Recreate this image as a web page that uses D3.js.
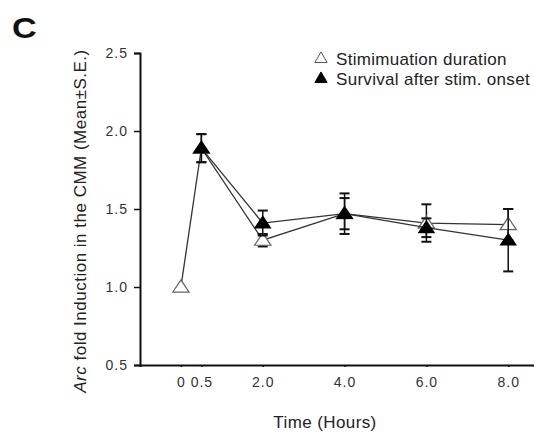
<!DOCTYPE html>
<html>
<head>
<meta charset="utf-8">
<script src="https://cdn.jsdelivr.net/npm/d3@7"></script>
<style>
  body { margin: 0; background: #fff; }
  text { font-family: "Liberation Sans", Arial, sans-serif; }
</style>
</head>
<body>
<svg id="chart"></svg>
<script>
let w = 534;
let h = 439;

// time points (hours)
let stimTimes = [0, 0.5, 2, 4, 6, 8];
let stimMean = [1.0, 1.89, 1.30, 1.47, 1.41, 1.40];
let stimSE = [0, 0.09, 0.04, 0.10, 0.12, 0.10];

let survTimes = [0.5, 2, 4, 6, 8];
let survMean = [1.89, 1.41, 1.47, 1.38, 1.30];
let survSE = [0.09, 0.08, 0.13, 0.06, 0.20];

let xTicks = [0, 0.5, 2, 4, 6, 8];
let xTickLabels = ["0", "0.5", "2.0", "4.0", "6.0", "8.0"];
let yTicks = [0.5, 1.0, 1.5, 2.0, 2.5];

let svg = d3.select("#chart").attr("width", w).attr("height", h);

let xScale = d3.scaleLinear().domain([-1, 8.63]).range([140, 534]);
let yScale = d3.scaleLinear().domain([0.5, 2.5]).range([365, 53]);

// axes
let yAxis = d3.axisLeft(yScale).tickValues(yTicks).tickFormat(d3.format(".1f")).tickSizeOuter(0).tickSize(6).tickPadding(6);
let xAxis = d3.axisBottom(xScale).tickValues(xTicks).tickFormat((d, i) => xTickLabels[i]).tickSizeOuter(0).tickSize(2).tickPadding(10);

let yg = svg.append("g").attr("transform", "translate(140,0)").call(yAxis);
let xg = svg.append("g").attr("transform", "translate(0,365)").call(xAxis);
[yg, xg].forEach(g => {
  g.select(".domain").attr("stroke", "#111").attr("stroke-width", 2);
  g.selectAll(".tick line").attr("stroke", "#111").attr("stroke-width", 1.5);
  g.selectAll(".tick text").attr("font-size", 14).attr("fill", "#333")
    .attr("letter-spacing", 1)
    .attr("font-family", "Liberation Sans, Arial, sans-serif");
});

// axis titles
svg.append("text")
  .attr("x", 325).attr("y", 428)
  .attr("text-anchor", "middle")
  .attr("font-size", 17).attr("letter-spacing", 0.4).attr("fill", "#222")
  .text("Time (Hours)");

let yl = svg.append("text")
  .attr("transform", "translate(86,221) rotate(-90)")
  .attr("text-anchor", "middle")
  .attr("font-size", 17).attr("letter-spacing", 0.5).attr("fill", "#222");
yl.append("tspan").attr("font-style", "italic").text("Arc");
yl.append("tspan").text(" fold Induction in the CMM (Mean±S.E.)");

// panel letter
svg.append("text")
  .attr("transform", "translate(12,38) scale(1.18,1)")
  .attr("font-size", 29).attr("font-weight", "bold").attr("fill", "#111")
  .text("C");

function series(times, means, ses, filled) {
  let pts = times.map((t, i) => ({t: t, m: means[i], s: ses[i]}));
  let g = svg.append("g");
  g.append("path")
    .datum(pts)
    .attr("fill", "none")
    .attr("stroke", "#333")
    .attr("stroke-width", 1.3)
    .attr("d", d3.line().x(d => xScale(d.t)).y(d => yScale(d.m)));

  let eb = g.selectAll(".eb").data(pts.filter(d => d.s > 0)).enter().append("g");
  eb.append("line")
    .attr("x1", d => xScale(d.t)).attr("x2", d => xScale(d.t))
    .attr("y1", d => yScale(d.m - d.s)).attr("y2", d => yScale(d.m + d.s))
    .attr("stroke", "#111").attr("stroke-width", 1.5);
  [-1, 1].forEach(sign => {
    eb.append("line")
      .attr("x1", d => xScale(d.t) - 5).attr("x2", d => xScale(d.t) + 5)
      .attr("y1", d => yScale(d.m + sign * d.s)).attr("y2", d => yScale(d.m + sign * d.s))
      .attr("stroke", "#111").attr("stroke-width", 2);
  });

  g.selectAll(".pt").data(pts).enter().append("path")
    .attr("transform", d => `translate(${xScale(d.t)},${yScale(d.m) + 1}) scale(1.1,0.95)`)
    .attr("d", d3.symbol().type(d3.symbolTriangle).size(filled ? 85 : 95))
    .attr("fill", filled ? "#000" : "#fff")
    .attr("stroke", filled ? "#000" : "#666")
    .attr("stroke-width", 1.2);
}

series(stimTimes, stimMean, stimSE, false);
series(survTimes, survMean, survSE, true);

// legend
let legend = [
  {label: "Stimimuation duration", filled: false},
  {label: "Survival after stim. onset", filled: true}
];
let lg = svg.selectAll(".lg").data(legend).enter().append("g")
  .attr("transform", (d, i) => `translate(321,${59 + i * 20})`);
lg.append("path")
  .attr("d", d3.symbol().type(d3.symbolTriangle).size(65))
  .attr("fill", d => d.filled ? "#000" : "#fff")
  .attr("stroke", d => d.filled ? "#000" : "#555")
  .attr("stroke-width", 1);
lg.append("text")
  .attr("x", 15).attr("y", 6)
  .attr("font-size", 17).attr("letter-spacing", 0.3).attr("fill", "#222")
  .text(d => d.label);
</script>
</body>
</html>
